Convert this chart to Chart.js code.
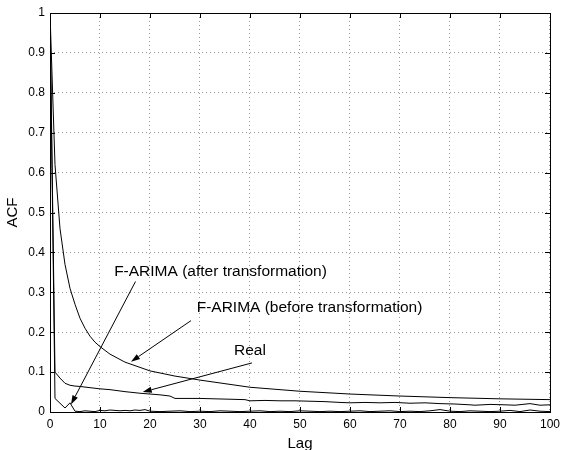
<!DOCTYPE html>
<html>
<head>
<meta charset="utf-8">
<script src="https://cdn.jsdelivr.net/npm/chart.js@4"></script>
<style>
  html, body { margin: 0; padding: 0; background: #fff; }
  #wrap { width: 565px; height: 450px; }
</style>
</head>
<body>
<div id="wrap"><canvas id="acfChart" width="565" height="450"></canvas></div>
<script>
// lags and ACF values
const beforeLags = [0, 1, 2, 3, 4, 5, 6, 7, 8, 9, 10, 12, 15, 20, 25, 30, 40, 50, 60, 70, 80, 90, 100];
const beforeAcf = [1, 0.62, 0.46, 0.37, 0.31, 0.27, 0.235, 0.21, 0.19, 0.175, 0.164, 0.145, 0.125, 0.103, 0.09, 0.08, 0.062, 0.052, 0.045, 0.04, 0.036, 0.033, 0.031];

const realLags = [0, 1, 2, 3, 4, 5, 6, 8, 10, 12, 15, 18, 20, 22, 24, 25, 27, 30, 33, 36, 39, 40, 43, 46, 49, 52, 55, 58, 60, 63, 66, 69, 72, 75, 78, 81, 84, 85, 88, 91, 93, 96, 98, 100];
const realAcf = [1, 0.1, 0.085, 0.072, 0.067, 0.065, 0.064, 0.061, 0.058, 0.056, 0.051, 0.047, 0.045, 0.043, 0.04, 0.034, 0.034, 0.034, 0.033, 0.032, 0.031, 0.028, 0.029, 0.028, 0.028, 0.027, 0.026, 0.024, 0.023, 0.024, 0.023, 0.024, 0.022, 0.023, 0.021, 0.02, 0.018, 0.017, 0.019, 0.018, 0.017, 0.021, 0.017, 0.018];

const afterLags = [0, 1, 2, 3, 4, 5, 6, 7, 8, 9, 10, 11, 12, 13, 14, 15, 16, 17, 18, 19, 20, 22, 24, 26, 28, 30, 32, 34, 36, 38, 40, 42, 44, 46, 48, 50, 52, 54, 56, 58, 60, 62, 64, 66, 68, 70, 72, 74, 76, 78, 80, 82, 84, 86, 88, 90, 92, 94, 96, 98, 100];
const afterAcf = [1, 0.034, 0.022, 0.01, 0.023, 0.002, 0.001, 0.003, 0.002, 0.001, 0.004, 0.003, 0.005, 0.004, 0.003, 0.004, 0.003, 0.005, 0.004, 0.006, 0.002, 0.001, 0.002, 0.003, 0.001, 0.002, 0.001, 0.003, 0.002, 0.001, 0.002, 0.003, 0.001, 0.002, 0.001, 0.003, 0.002, 0.001, 0.002, 0.001, 0.002, 0.003, 0.001, 0.002, 0.003, 0.001, 0.002, 0.001, 0.003, 0.006, 0.002, 0.001, 0.003, 0.002, 0.001, 0.002, 0.004, 0.001, 0.005, 0.002, 0.001];

const xTicks = [0, 10, 20, 30, 40, 50, 60, 70, 80, 90, 100];
const yTicks = [0, 0.1, 0.2, 0.3, 0.4, 0.5, 0.6, 0.7, 0.8, 0.9, 1];

// annotation text and arrow (start -> tip), in data units
const notes = [
    { text: 'F-ARIMA (after transformation)', at: [34.1, 0.352], from: [17.1, 0.327], to: [4.2, 0.019] },
    { text: 'F-ARIMA (before transformation)', at: [51.9, 0.261], from: [28.2, 0.229], to: [16.2, 0.126] },
    { text: 'Real', at: [40, 0.153], from: [40.4, 0.123], to: [18.55, 0.05] }
];

const FONT = '"Liberation Sans", Arial, Helvetica, sans-serif';

function toPoints(xs, ys) {
    return xs.map(function (x, i) {
        return { x: x, y: ys[i] };
    });
}

function lineSet(label, xs, ys) {
    return {
        label: label,
        data: toPoints(xs, ys),
        borderColor: '#000',
        borderWidth: 1,
        pointRadius: 0,
        tension: 0,
        fill: false
    };
}

const framePlugin = {
    id: 'frame',
    afterDatasetsDraw: function (chart) {
        const ctx = chart.ctx;
        const a = chart.chartArea;
        const xs = chart.scales.x;
        const ys = chart.scales.y;
        ctx.save();
        ctx.strokeStyle = '#000';
        ctx.lineWidth = 1;
        ctx.setLineDash([]);
        ctx.strokeRect(Math.round(a.left) + 0.5, Math.round(a.top) + 0.5,
            Math.round(a.right - a.left), Math.round(a.bottom - a.top));
        ctx.beginPath();
        xTicks.forEach(function (v) {
            const px = Math.round(xs.getPixelForValue(v)) + 0.5;
            ctx.moveTo(px, a.bottom);
            ctx.lineTo(px, a.bottom - 5);
            ctx.moveTo(px, a.top);
            ctx.lineTo(px, a.top + 5);
        });
        yTicks.forEach(function (v) {
            const py = Math.round(ys.getPixelForValue(v)) + 0.5;
            ctx.moveTo(a.left, py);
            ctx.lineTo(a.left + 5, py);
            ctx.moveTo(a.right, py);
            ctx.lineTo(a.right - 5, py);
        });
        ctx.stroke();
        ctx.restore();
    }
};

const notesPlugin = {
    id: 'notes',
    afterDatasetsDraw: function (chart) {
        const ctx = chart.ctx;
        const xs = chart.scales.x;
        const ys = chart.scales.y;
        ctx.save();
        ctx.fillStyle = '#000';
        ctx.strokeStyle = '#000';
        ctx.lineWidth = 1;
        ctx.font = '15.5px ' + FONT;
        ctx.textAlign = 'center';
        ctx.textBaseline = 'middle';
        notes.forEach(function (n) {
            ctx.fillText(n.text, xs.getPixelForValue(n.at[0]), ys.getPixelForValue(n.at[1]));
            const x1 = xs.getPixelForValue(n.from[0]);
            const y1 = ys.getPixelForValue(n.from[1]);
            const x2 = xs.getPixelForValue(n.to[0]);
            const y2 = ys.getPixelForValue(n.to[1]);
            const ang = Math.atan2(y2 - y1, x2 - x1);
            const len = 9;
            const half = 3;
            const bx = x2 - len * Math.cos(ang);
            const by = y2 - len * Math.sin(ang);
            ctx.beginPath();
            ctx.moveTo(x1, y1);
            ctx.lineTo(bx, by);
            ctx.stroke();
            ctx.beginPath();
            ctx.moveTo(x2, y2);
            ctx.lineTo(bx + half * Math.sin(ang), by - half * Math.cos(ang));
            ctx.lineTo(bx - half * Math.sin(ang), by + half * Math.cos(ang));
            ctx.closePath();
            ctx.fill();
        });
        ctx.restore();
    }
};

new Chart(document.getElementById('acfChart'), {
    type: 'line',
    data: {
        datasets: [
            lineSet('F-ARIMA (before transformation)', beforeLags, beforeAcf),
            lineSet('Real', realLags, realAcf),
            lineSet('F-ARIMA (after transformation)', afterLags, afterAcf)
        ]
    },
    options: {
        responsive: false,
        animation: false,
        layout: {
            padding: { top: 13, right: 8, left: 0, bottom: 0 }
        },
        plugins: {
            legend: { display: false },
            tooltip: { enabled: false }
        },
        scales: {
            x: {
                type: 'linear',
                min: 0,
                max: 100,
                afterFit: function (s) { s.height = 38; },
                afterBuildTicks: function (s) {
                    s.ticks = xTicks.map(function (v) { return { value: v }; });
                },
                ticks: {
                    color: '#000',
                    padding: 5,
                    maxRotation: 0,
                    font: { family: FONT, size: 12 }
                },
                grid: { color: '#999', lineWidth: 1, drawTicks: false },
                border: { display: false, dash: [1, 3] },
                title: {
                    display: true,
                    text: 'Lag',
                    color: '#000',
                    padding: { top: 0, bottom: -3 },
                    font: { family: FONT, size: 15 }
                }
            },
            y: {
                min: 0,
                max: 1,
                afterFit: function (s) { s.width = 50; },
                afterBuildTicks: function (s) {
                    s.ticks = yTicks.map(function (v) { return { value: v }; });
                },
                ticks: {
                    color: '#000',
                    padding: 5,
                    font: { family: FONT, size: 12 },
                    callback: function (v) { return String(Math.round(v * 10) / 10); }
                },
                grid: { color: '#999', lineWidth: 1, drawTicks: false },
                border: { display: false, dash: [1, 3] },
                title: {
                    display: true,
                    text: 'ACF',
                    color: '#000',
                    padding: { top: 4, bottom: 0 },
                    font: { family: FONT, size: 15 }
                }
            }
        }
    },
    plugins: [framePlugin, notesPlugin]
});
</script>
</body>
</html>
